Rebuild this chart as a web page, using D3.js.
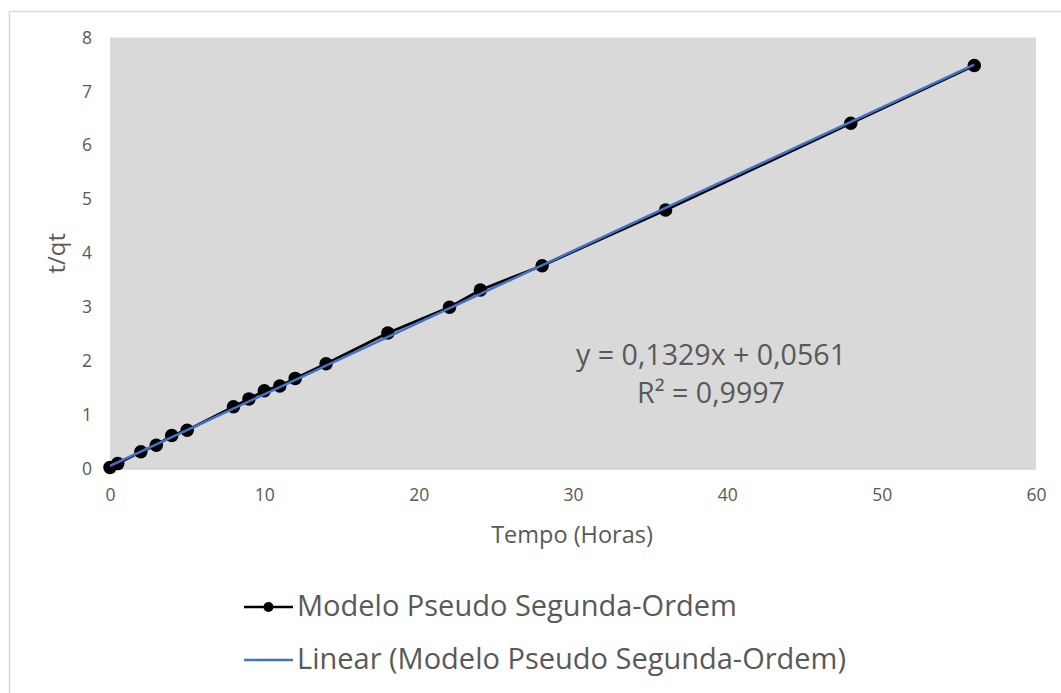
<!DOCTYPE html>
<html>
<head>
<meta charset="utf-8">
<script src="https://cdn.jsdelivr.net/npm/d3@7"></script>
<style>
  html, body { margin: 0; padding: 0; background: #ffffff; }
  svg text { font-family: "Open Sans", Lato, sans-serif; fill: #595959; }
</style>
</head>
<body>
<svg id="chart" width="1061" height="693"></svg>
<script>
// Tempo (horas) e t/qt do modelo de pseudo segunda-ordem
const tempo = [0, 0.5, 2, 3, 4, 5, 8, 9, 10, 11, 12, 14, 18, 22, 24, 28, 36, 48, 56];
const tqt   = [0.03, 0.10, 0.32, 0.44, 0.62, 0.72, 1.155, 1.30, 1.45, 1.54, 1.68, 1.95, 2.52, 3.00, 3.32, 3.77, 4.80, 6.41, 7.48];

// Linha de tendência linear
const slope = 0.1329;
const intercept = 0.0561;
const trendRange = [0, 56];

const xTicks = [0, 10, 20, 30, 40, 50, 60];
const yTicks = [0, 1, 2, 3, 4, 5, 6, 7, 8];

const seriesName = "Modelo Pseudo Segunda-Ordem";
const trendName = "Linear (Modelo Pseudo Segunda-Ordem)";
const eqText = "y = 0,1329x + 0,0561";
const r2Text = "R² = 0,9997";

const svg = d3.select("#chart");

// chart frame
svg.append("rect")
  .attr("x", 9.5).attr("y", 11.5)
  .attr("width", 1100).attr("height", 800)
  .attr("fill", "#ffffff").attr("stroke", "#d9d9d9").attr("stroke-width", 1.5);

const plot = { left: 110, right: 1036, top: 37.5, bottom: 469 };

const x = d3.scaleLinear().domain([0, 60]).range([plot.left, plot.right]);
const y = d3.scaleLinear().domain([0, 8]).range([plot.bottom, plot.top]);

// plot area
svg.append("rect")
  .attr("x", plot.left).attr("y", plot.top)
  .attr("width", plot.right - plot.left).attr("height", plot.bottom - plot.top)
  .attr("fill", "#d9d9d9");

svg.append("line")
  .attr("x1", plot.left).attr("x2", plot.right)
  .attr("y1", plot.bottom).attr("y2", plot.bottom)
  .attr("stroke", "#c6c6c6").attr("stroke-width", 1);

// axes (labels only)
const tickFont = "17.5px";
const xAxis = d3.axisBottom(x).tickValues(xTicks).tickSize(0).tickPadding(20).tickFormat(d3.format("d"));
const gx = svg.append("g").attr("transform", `translate(0,${plot.bottom})`).call(xAxis);
gx.select(".domain").remove();
gx.selectAll("text").style("font-size", tickFont).style("fill", "#595959")
  .style("font-family", "'Open Sans', Lato, sans-serif");

const yAxis = d3.axisLeft(y).tickValues(yTicks).tickSize(0).tickPadding(18).tickFormat(d3.format("d"));
const gy = svg.append("g").attr("transform", `translate(${plot.left},0)`).call(yAxis);
gy.select(".domain").remove();
gy.selectAll("text").style("font-size", tickFont).style("fill", "#595959")
  .style("font-family", "'Open Sans', Lato, sans-serif");

// axis titles
svg.append("text")
  .attr("x", 572).attr("y", 543)
  .attr("text-anchor", "middle")
  .style("font-size", "23.5px")
  .text("Tempo (Horas)");

svg.append("text")
  .attr("transform", `translate(65,${(plot.top + plot.bottom) / 2}) rotate(-90)`)
  .attr("text-anchor", "middle")
  .style("font-size", "24px")
  .text("t/qt");

// data series
const pts = tempo.map((t, i) => ({ t, v: tqt[i] }));
const line = d3.line().x(d => x(d.t)).y(d => y(d.v));

svg.append("path")
  .datum(pts)
  .attr("d", line)
  .attr("fill", "none")
  .attr("stroke", "#000000")
  .attr("stroke-width", 2.75)
  .attr("stroke-linejoin", "round");

svg.append("g").selectAll("circle")
  .data(pts)
  .join("circle")
  .attr("cx", d => x(d.t)).attr("cy", d => y(d.v))
  .attr("r", 6.75)
  .attr("fill", "#000000");

// linear trendline
const trendPts = trendRange.map(t => ({ t, v: slope * t + intercept }));
svg.append("path")
  .datum(trendPts)
  .attr("d", line)
  .attr("fill", "none")
  .attr("stroke", "#4472c4")
  .attr("stroke-width", 2.5);

// equation label
svg.append("text")
  .attr("x", 711).attr("y", 365)
  .attr("text-anchor", "middle")
  .style("font-size", "28.6px")
  .text(eqText);
svg.append("text")
  .attr("x", 711).attr("y", 403)
  .attr("text-anchor", "middle")
  .style("font-size", "28.6px")
  .text(r2Text);

// legend
const legend = svg.append("g");
legend.append("line")
  .attr("x1", 244).attr("x2", 293).attr("y1", 607).attr("y2", 607)
  .attr("stroke", "#000000").attr("stroke-width", 2.5);
legend.append("circle")
  .attr("cx", 268.5).attr("cy", 607).attr("r", 5)
  .attr("fill", "#000000");
legend.append("text")
  .attr("x", 297).attr("y", 616)
  .style("font-size", "29px")
  .text(seriesName);

legend.append("line")
  .attr("x1", 244).attr("x2", 293).attr("y1", 660).attr("y2", 660)
  .attr("stroke", "#4472c4").attr("stroke-width", 2.5);
legend.append("text")
  .attr("x", 297).attr("y", 669)
  .style("font-size", "29px")
  .text(trendName);
</script>
</body>
</html>
